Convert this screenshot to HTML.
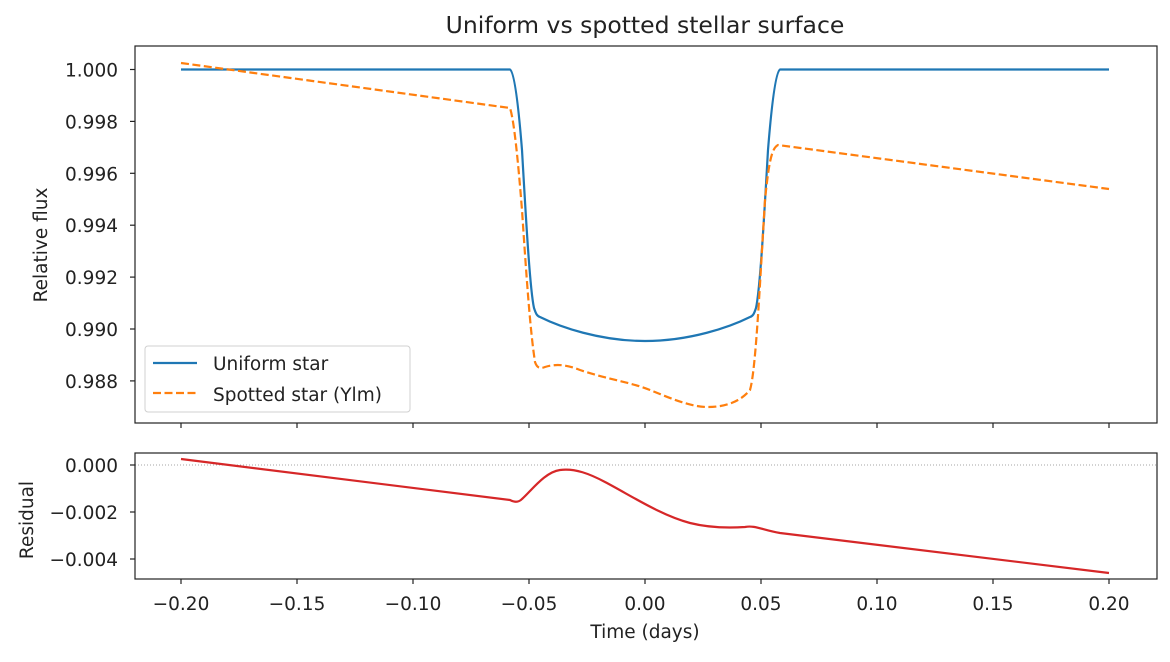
<!DOCTYPE html>
<html><head><meta charset="utf-8"><style>
body{margin:0;background:#fff}
svg text{font-family:"DejaVu Sans","Liberation Sans",sans-serif;fill:#222}
</style></head><body>
<svg width="1170" height="657" viewBox="0 0 1170 657" xmlns="http://www.w3.org/2000/svg">
<rect width="1170" height="657" fill="#fff"/>
<text x="645" y="33" font-size="23.5" text-anchor="middle">Uniform vs spotted stellar surface</text>
<g stroke="#222" stroke-width="1.2">
<line x1="130" x2="135" y1="69.5" y2="69.5"/><line x1="130" x2="135" y1="121.4" y2="121.4"/>
<line x1="130" x2="135" y1="173.3" y2="173.3"/><line x1="130" x2="135" y1="225.2" y2="225.2"/>
<line x1="130" x2="135" y1="277.1" y2="277.1"/><line x1="130" x2="135" y1="329" y2="329"/>
<line x1="130" x2="135" y1="380.9" y2="380.9"/>
</g>
<g font-size="18.5" text-anchor="end">
<text x="118" y="76.5">1.000</text><text x="118" y="128.4">0.998</text><text x="118" y="180.3">0.996</text>
<text x="118" y="232.2">0.994</text><text x="118" y="284.1">0.992</text><text x="118" y="336">0.990</text>
<text x="118" y="387.9">0.988</text>
</g>
<text transform="translate(47,245) rotate(-90)" font-size="18.5" text-anchor="middle">Relative flux</text>
<g stroke="#222" stroke-width="1.2">
<line x1="181" x2="181" y1="423" y2="428"/><line x1="297" x2="297" y1="423" y2="428"/>
<line x1="413" x2="413" y1="423" y2="428"/><line x1="529" x2="529" y1="423" y2="428"/>
<line x1="645" x2="645" y1="423" y2="428"/><line x1="761" x2="761" y1="423" y2="428"/>
<line x1="877" x2="877" y1="423" y2="428"/><line x1="993" x2="993" y1="423" y2="428"/>
<line x1="1109" x2="1109" y1="423" y2="428"/>
</g>
<path fill="none" stroke="#1f77b4" stroke-width="2.2" stroke-linejoin="round" d="M181,69.5 L510,69.5 C514,72 518,100 522,150 C526,220 530,290 534,308 C536,314 537,316 540,317 C560,327 600,341 645,341 C690,341 730,327 750,317 C753,316 754,314 756,308 C760,290 764,220 768,150 C772,100 776,72 780,69.5 L1109,69.5"/>
<path fill="none" stroke="#ff7f0e" stroke-width="2.2" stroke-dasharray="8,3.5" stroke-linejoin="round" d="M181,63 L510,108 C514,120 518,160 522,210 C526,270 530,330 535,362 C537,368 540,369 545,367 C555,364 565,364 580,370 C610,380 630,382 650,390 C670,398 690,407 708,407 C725,407 740,402 750,390 C756,370 760,280 765,200 C769,160 772,148 778,145 L1109,189"/>
<rect x="135" y="46" width="1022" height="377" fill="none" stroke="#222" stroke-width="1.2"/>
<rect x="145" y="346" width="265" height="66" rx="3" fill="#fff" fill-opacity="0.8" stroke="#d0d0d0"/>
<line x1="153" x2="197" y1="363" y2="363" stroke="#1f77b4" stroke-width="2.2"/>
<line x1="153" x2="197" y1="393" y2="393" stroke="#ff7f0e" stroke-width="2.2" stroke-dasharray="8,3.5"/>
<text x="213" y="370" font-size="18.5">Uniform star</text>
<text x="213" y="401" font-size="18.5">Spotted star (Ylm)</text>
<line x1="135" x2="1157" y1="465" y2="465" stroke="#888" stroke-width="0.8" stroke-dasharray="1,2"/>
<path fill="none" stroke="#d62728" stroke-width="2.2" stroke-linejoin="round" d="M181,459 L510,500 C514,502 518,503 522,499 C532,490 545,472 560,470 C575,468 590,474 605,482 C630,495 660,515 690,523 C710,528 730,528 745,527 C755,525 762,530 780,533 L1109,573"/>
<rect x="135" y="453" width="1022" height="126" fill="none" stroke="#222" stroke-width="1.2"/>
<g stroke="#222" stroke-width="1.2">
<line x1="130" x2="135" y1="465" y2="465"/><line x1="130" x2="135" y1="512" y2="512"/><line x1="130" x2="135" y1="559" y2="559"/>
<line x1="181" x2="181" y1="579" y2="584"/><line x1="297" x2="297" y1="579" y2="584"/>
<line x1="413" x2="413" y1="579" y2="584"/><line x1="529" x2="529" y1="579" y2="584"/>
<line x1="645" x2="645" y1="579" y2="584"/><line x1="761" x2="761" y1="579" y2="584"/>
<line x1="877" x2="877" y1="579" y2="584"/><line x1="993" x2="993" y1="579" y2="584"/>
<line x1="1109" x2="1109" y1="579" y2="584"/>
</g>
<g font-size="18.5" text-anchor="end">
<text x="118" y="472">0.000</text><text x="118" y="519">−0.002</text><text x="118" y="566">−0.004</text>
</g>
<text transform="translate(33,520) rotate(-90)" font-size="18.5" text-anchor="middle">Residual</text>
<g font-size="18.5" text-anchor="middle">
<text x="181" y="610">−0.20</text><text x="297" y="610">−0.15</text><text x="413" y="610">−0.10</text>
<text x="529" y="610">−0.05</text><text x="645" y="610">0.00</text><text x="761" y="610">0.05</text>
<text x="877" y="610">0.10</text><text x="993" y="610">0.15</text><text x="1109" y="610">0.20</text>
</g>
<text x="645" y="638" font-size="18.5" text-anchor="middle">Time (days)</text>
</svg>
</body></html>
